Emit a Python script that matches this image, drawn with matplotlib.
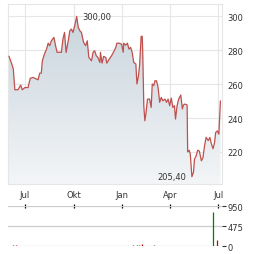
import numpy as np
import pandas as pd
import matplotlib
matplotlib.use('Agg')
import matplotlib.pyplot as plt
import matplotlib.dates as mdates
from matplotlib.patches import Polygon

# price series
dates = ['2023-06-01', '2023-06-06', '2023-06-09', '2023-06-12', '2023-06-18', '2023-06-23',
         '2023-06-26', '2023-07-01', '2023-07-07', '2023-07-11', '2023-07-16', '2023-07-23',
         '2023-07-26', '2023-07-29', '2023-08-01', '2023-08-03', '2023-08-07', '2023-08-11',
         '2023-08-14', '2023-08-17', '2023-08-20', '2023-08-25', '2023-08-28', '2023-08-31',
         '2023-09-05', '2023-09-08', '2023-09-11', '2023-09-14', '2023-09-17', '2023-09-21',
         '2023-09-24', '2023-09-27', '2023-09-30', '2023-10-04', '2023-10-07', '2023-10-10',
         '2023-10-13', '2023-10-16', '2023-10-20', '2023-10-24', '2023-10-27', '2023-10-30',
         '2023-11-04', '2023-11-07', '2023-11-10', '2023-11-13', '2023-11-16', '2023-11-20',
         '2023-11-21', '2023-11-24', '2023-11-27', '2023-12-01', '2023-12-03', '2023-12-07',
         '2023-12-12', '2023-12-16', '2023-12-20', '2023-12-22', '2023-12-26', '2023-12-31',
         '2024-01-03', '2024-01-04', '2024-01-08', '2024-01-11', '2024-01-14', '2024-01-17',
         '2024-01-20', '2024-01-23', '2024-01-27', '2024-01-29', '2024-02-01', '2024-02-03',
         '2024-02-06', '2024-02-08', '2024-02-09', '2024-02-11', '2024-02-13', '2024-02-15',
         '2024-02-18', '2024-02-22', '2024-02-25', '2024-02-27', '2024-03-01', '2024-03-03',
         '2024-03-06', '2024-03-09', '2024-03-12', '2024-03-15', '2024-03-18', '2024-03-22',
         '2024-03-25', '2024-03-28', '2024-03-31', '2024-04-03', '2024-04-06', '2024-04-09',
         '2024-04-11', '2024-04-14', '2024-04-17', '2024-04-21', '2024-04-24', '2024-04-26',
         '2024-04-29', '2024-05-03', '2024-05-04', '2024-05-07', '2024-05-09', '2024-05-12',
         '2024-05-15', '2024-05-17', '2024-05-20', '2024-05-23', '2024-05-26', '2024-05-30',
         '2024-06-02', '2024-06-05', '2024-06-08', '2024-06-12', '2024-06-15', '2024-06-18',
         '2024-06-21', '2024-06-24', '2024-06-26', '2024-06-29', '2024-07-02', '2024-07-03',
         '2024-07-05']
prices = [276.4, 272.0, 269.0, 256.7, 256.7, 259.5,
          256.7, 258.0, 258.0, 263.4, 264.0, 263.0,
          262.6, 266.5, 266.5, 273.8, 277.8, 280.7,
          284.2, 282.7, 285.6, 287.6, 282.7, 278.8,
          278.8, 278.8, 286.6, 290.5, 278.7, 285.6,
          291.5, 292.5, 290.5, 295.5, 300.0, 293.5,
          291.5, 290.5, 284.7, 282.7, 285.6, 275.8,
          273.8, 278.8, 279.7, 276.8, 275.8, 272.8,
          278.8, 272.4, 276.4, 275.8, 272.4, 274.5,
          276.8, 279.1, 281.7, 284.2, 284.2, 283.6,
          278.8, 284.2, 283.0, 284.2, 280.7, 281.7,
          278.8, 272.8, 271.9, 260.1, 265.0, 271.0,
          288.2, 288.2, 278.8, 247.3, 238.4, 242.5,
          251.2, 251.2, 246.3, 260.1, 259.2, 262.0,
          262.0, 258.2, 249.3, 252.2, 250.2, 251.2,
          249.3, 251.2, 247.3, 251.8, 246.3, 247.3,
          239.4, 247.3, 251.2, 253.6, 245.4, 247.7,
          248.3, 247.7, 220.0, 221.0, 218.7, 205.4,
          208.0, 215.8, 217.6, 221.0, 220.6, 214.8,
          216.7, 223.7, 228.6, 226.7, 228.6, 224.7,
          221.9, 225.7, 231.5, 232.4, 230.5, 237.0,
          250.0]

# volume bars (mostly near zero)
vol_dates = ['2023-06-09', '2023-06-14', '2024-01-22', '2024-01-29', '2024-02-02',
             '2024-02-08', '2024-03-01', '2024-06-21', '2024-06-29']
vol_values = [25, 25, 25, 25, 25, 45, 25, 822, 157]
vol_up = [False, False, False, True, True, False, True, True, False]

month_ticks = ['2023-07-01', '2023-10-01', '2024-01-01', '2024-04-01', '2024-07-01']
month_labels = ['Jul', 'Okt', 'Jan', 'Apr', 'Jul']

d = mdates.date2num(pd.to_datetime(dates))
p = np.array(prices)
xt = mdates.date2num(pd.to_datetime(month_ticks))
x0 = mdates.date2num(pd.Timestamp('2023-05-30'))
x1 = mdates.date2num(pd.Timestamp('2024-07-08'))
grid_c = '#e6e6e6'
txt_c = '#333333'
line_c = '#c0504d'

fig = plt.figure(figsize=(2.64, 2.55), dpi=100)
ax = fig.add_axes([8/264, 1-185/255, 214/264, 180/255])
ax.set_xlim(x0, x1)
ax.set_ylim(201.1, 307.3)

# gradient fill below the line
grad = np.linspace(0, 1, 256).reshape(-1, 1)
cmap = matplotlib.colors.LinearSegmentedColormap.from_list('g', ['#f3f5f7', '#c9d5dd'])
im = ax.imshow(grad, cmap=cmap, aspect='auto', origin='lower',
               extent=[x0, x1, 201.1, 300.0], zorder=1)
poly = Polygon(np.column_stack([np.r_[d[0], d, d[-1]], np.r_[201.1, p, 201.1]]),
               closed=True, transform=ax.transData, facecolor='none', edgecolor='none')
ax.add_patch(poly)
im.set_clip_path(poly)
ax.plot(d, p, color=line_c, lw=0.9, zorder=3)

ax.set_xticks(xt)
ax.set_xticklabels(month_labels)
ax.set_yticks([220, 240, 260, 280, 300])
ax.yaxis.tick_right()
ax.grid(True, color=grid_c, lw=0.8, zorder=0)
ax.set_axisbelow(True)
ax.tick_params(axis='both', length=0, labelsize=6, colors=txt_c)
ax.tick_params(axis='x', pad=4)
ax.tick_params(axis='y', pad=4)
for s in ax.spines.values():
    s.set_color(grid_c)
    s.set_linewidth(0.8)

i_max = int(np.argmax(p))
i_min = int(np.argmin(p))
ax.annotate('300,00', (d[i_max], p[i_max]), xytext=(4, 0), textcoords='offset points',
            fontsize=6, color=txt_c, va='center', ha='left')
ax.annotate('205,40', (d[i_min], p[i_min]), xytext=(-4, 0), textcoords='offset points',
            fontsize=6, color=txt_c, va='center', ha='right')

# volume panel
ax2 = fig.add_axes([8/264, 1-247.3/255, 214/264, 40/255])
ax2.set_xlim(x0, x1)
ax2.set_ylim(0, 950)
vd = mdates.date2num(pd.to_datetime(vol_dates))
vc = ['#008000' if u else '#c00000' for u in vol_up]
ax2.vlines(vd, 0, vol_values, colors=vc, lw=0.9)
ax2.set_yticks([0, 475, 950])
ax2.set_yticklabels(['0', '475', '950'])
ax2.yaxis.tick_right()
ax2.tick_params(axis='y', length=3, width=0.8, labelsize=6, colors=txt_c, pad=1)
ax2.set_xticks(xt)
ax2.xaxis.tick_top()
ax2.tick_params(axis='x', direction='inout', length=3, width=0.9, colors='black', labeltop=False)
ax2.grid(True, axis='y', color='#cccccc', lw=0.9)
for s in ax2.spines.values():
    s.set_visible(False)

fig.savefig('out.png', dpi=100)
